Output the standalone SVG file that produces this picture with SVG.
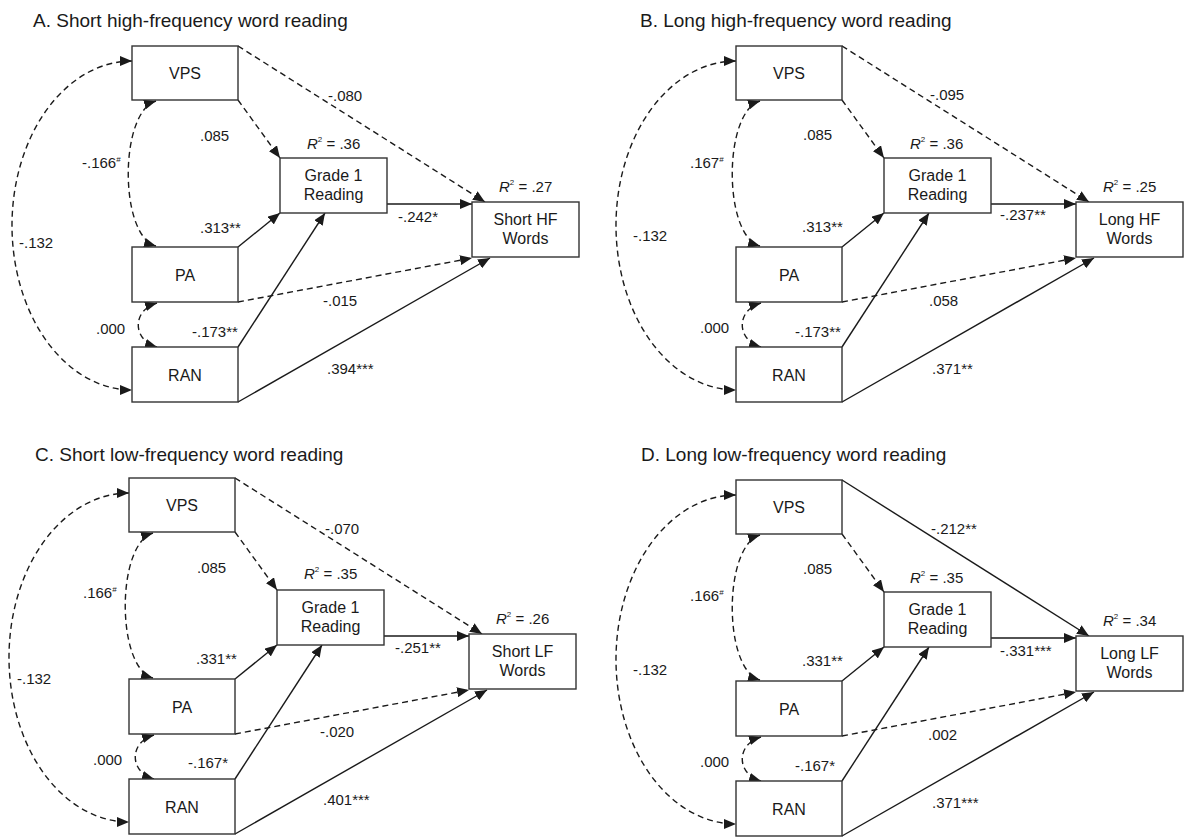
<svg xmlns="http://www.w3.org/2000/svg" width="1186" height="837" viewBox="0 0 1186 837">
<style>
.title{font-family:"Liberation Sans",Arial,sans-serif;font-size:19px;fill:#1a1a1a}
.nt{font-family:"Liberation Sans",Arial,sans-serif;font-size:16px;fill:#1a1a1a;text-anchor:middle}
.lab{font-family:"Liberation Sans",Arial,sans-serif;font-size:15px;fill:#1a1a1a}
.sup{font-size:8px}
.box{fill:#fff;stroke:#333;stroke-width:1.4}
.s{fill:none;stroke:#1a1a1a;stroke-width:1.4;marker-end:url(#ah)}
.d{fill:none;stroke:#1a1a1a;stroke-width:1.4;stroke-dasharray:6 4;marker-end:url(#ah)}
.dd{fill:none;stroke:#1a1a1a;stroke-width:1.4;stroke-dasharray:6 4;marker-start:url(#ah);marker-end:url(#ah)}
</style>
<defs>
<marker id="ah" markerUnits="userSpaceOnUse" viewBox="0 0 12 10" markerWidth="12" markerHeight="10" refX="12" refY="5" orient="auto-start-reverse">
<path d="M0,0 L12,5 L0,10 z" fill="#1a1a1a"/>
</marker>
</defs>
<rect width="1186" height="837" fill="#fff"/>

<text class="title" x="33" y="27">A. Short high-frequency word reading</text>
<text class="title" x="640" y="27">B. Long high-frequency word reading</text>
<text class="title" x="35" y="461">C. Short low-frequency word reading</text>
<text class="title" x="641" y="461">D. Long low-frequency word reading</text>

<!-- Panel A -->
<g id="panelA">
<g id="A-connectors">
<path class="dd" d="M132,61 A120,164.5 0 0 0 132,390"/>
<path class="dd" d="M156,101 C119,112 119,236 156,246"/>
<path class="dd" d="M157,303 C132,310 132,340 157,347"/>
<path class="d" d="M238,100 L280,158"/>
<path class="d" d="M238,46 L485,202"/>
<path class="s" d="M387,204 L472,204"/>
<path class="s" d="M238,247 L280,213"/>
<path class="s" d="M238,347 L325,213"/>
<path class="d" d="M238,302 L472,258"/>
<path class="s" d="M238,402 L490,258"/>
</g>
<g id="A-VPS"><rect class="box" x="132" y="46" width="106" height="54"/><text class="nt" x="185" y="78.5">VPS</text></g>
<g id="A-PA"><rect class="box" x="132" y="247" width="106" height="55"/><text class="nt" x="185" y="280.5">PA</text></g>
<g id="A-RAN"><rect class="box" x="132" y="347" width="106" height="55"/><text class="nt" x="185" y="380.5">RAN</text></g>
<g id="A-G1"><rect class="box" x="280" y="158" width="107" height="55"/><text class="nt" x="333.5" y="181">Grade 1</text><text class="nt" x="333.5" y="199.5">Reading</text></g>
<g id="A-OUT"><rect class="box" x="472" y="202" width="107" height="55"/><text class="nt" x="525.5" y="225">Short HF</text><text class="nt" x="525.5" y="243.5">Words</text></g>
<g id="A-labels">
<text class="lab" x="200" y="141">.085</text>
<text class="lab" x="82" y="168">-.166<tspan class="sup" dy="-6">#</tspan></text>
<text class="lab" x="19" y="248">-.132</text>
<text class="lab" x="200" y="233">.313**</text>
<text class="lab" x="96" y="334">.000</text>
<text class="lab" x="192" y="337">-.173**</text>
<text class="lab" x="328" y="101">-.080</text>
<text class="lab" x="398" y="222">-.242*</text>
<text class="lab" x="323" y="306">-.015</text>
<text class="lab" x="327" y="374">.394***</text>
<text class="lab" x="307" y="149"><tspan font-style="italic">R</tspan><tspan class="sup" dy="-7">2</tspan><tspan dy="7"> = .36</tspan></text>
<text class="lab" x="499" y="192"><tspan font-style="italic">R</tspan><tspan class="sup" dy="-7">2</tspan><tspan dy="7"> = .27</tspan></text>
</g>
</g>

<!-- Panel B -->
<g id="panelB" transform="translate(604,0)">
<g id="B-connectors">
<path class="dd" d="M132,61 A120,164.5 0 0 0 132,390"/>
<path class="dd" d="M156,101 C119,112 119,236 156,246"/>
<path class="dd" d="M157,303 C132,310 132,340 157,347"/>
<path class="d" d="M238,100 L280,158"/>
<path class="d" d="M238,46 L485,202"/>
<path class="s" d="M387,204 L472,204"/>
<path class="s" d="M238,247 L280,213"/>
<path class="s" d="M238,347 L325,213"/>
<path class="d" d="M238,302 L472,258"/>
<path class="s" d="M238,402 L490,258"/>
</g>
<g id="B-VPS"><rect class="box" x="132" y="46" width="106" height="54"/><text class="nt" x="185" y="78.5">VPS</text></g>
<g id="B-PA"><rect class="box" x="132" y="247" width="106" height="55"/><text class="nt" x="185" y="280.5">PA</text></g>
<g id="B-RAN"><rect class="box" x="132" y="347" width="106" height="55"/><text class="nt" x="185" y="380.5">RAN</text></g>
<g id="B-G1"><rect class="box" x="280" y="158" width="107" height="55"/><text class="nt" x="333.5" y="181">Grade 1</text><text class="nt" x="333.5" y="199.5">Reading</text></g>
<g id="B-OUT"><rect class="box" x="472" y="202" width="107" height="55"/><text class="nt" x="525.5" y="225">Long HF</text><text class="nt" x="525.5" y="243.5">Words</text></g>
<g id="B-labels">
<text class="lab" x="199" y="140">.085</text>
<text class="lab" x="86" y="168">.167<tspan class="sup" dy="-6">#</tspan></text>
<text class="lab" x="29" y="241">-.132</text>
<text class="lab" x="198" y="232">.313**</text>
<text class="lab" x="96" y="333">.000</text>
<text class="lab" x="191" y="337">-.173**</text>
<text class="lab" x="326" y="100">-.095</text>
<text class="lab" x="396" y="220">-.237**</text>
<text class="lab" x="325" y="306">.058</text>
<text class="lab" x="328" y="374">.371**</text>
<text class="lab" x="306" y="149"><tspan font-style="italic">R</tspan><tspan class="sup" dy="-7">2</tspan><tspan dy="7"> = .36</tspan></text>
<text class="lab" x="499" y="192"><tspan font-style="italic">R</tspan><tspan class="sup" dy="-7">2</tspan><tspan dy="7"> = .25</tspan></text>
</g>
</g>

<!-- Panel C -->
<g id="panelC" transform="translate(-3,432)">
<g id="C-connectors">
<path class="dd" d="M132,61 A120,164.5 0 0 0 132,390"/>
<path class="dd" d="M156,101 C119,112 119,236 156,246"/>
<path class="dd" d="M157,303 C132,310 132,340 157,347"/>
<path class="d" d="M238,100 L280,158"/>
<path class="d" d="M238,46 L485,202"/>
<path class="s" d="M387,204 L472,204"/>
<path class="s" d="M238,247 L280,213"/>
<path class="s" d="M238,347 L325,213"/>
<path class="d" d="M238,302 L472,258"/>
<path class="s" d="M238,402 L490,258"/>
</g>
<g id="C-VPS"><rect class="box" x="132" y="46" width="106" height="54"/><text class="nt" x="185" y="78.5">VPS</text></g>
<g id="C-PA"><rect class="box" x="132" y="247" width="106" height="55"/><text class="nt" x="185" y="280.5">PA</text></g>
<g id="C-RAN"><rect class="box" x="132" y="347" width="106" height="55"/><text class="nt" x="185" y="380.5">RAN</text></g>
<g id="C-G1"><rect class="box" x="280" y="158" width="107" height="55"/><text class="nt" x="333.5" y="181">Grade 1</text><text class="nt" x="333.5" y="199.5">Reading</text></g>
<g id="C-OUT"><rect class="box" x="472" y="202" width="107" height="55"/><text class="nt" x="525.5" y="225">Short LF</text><text class="nt" x="525.5" y="243.5">Words</text></g>
<g id="C-labels">
<text class="lab" x="200" y="141">.085</text>
<text class="lab" x="86" y="166">.166<tspan class="sup" dy="-6">#</tspan></text>
<text class="lab" x="20" y="252">-.132</text>
<text class="lab" x="199" y="232">.331**</text>
<text class="lab" x="96" y="333">.000</text>
<text class="lab" x="191" y="336">-.167*</text>
<text class="lab" x="328" y="102">-.070</text>
<text class="lab" x="398" y="221">-.251**</text>
<text class="lab" x="323" y="305">-.020</text>
<text class="lab" x="326" y="373">.401***</text>
<text class="lab" x="307" y="147"><tspan font-style="italic">R</tspan><tspan class="sup" dy="-7">2</tspan><tspan dy="7"> = .35</tspan></text>
<text class="lab" x="499" y="192"><tspan font-style="italic">R</tspan><tspan class="sup" dy="-7">2</tspan><tspan dy="7"> = .26</tspan></text>
</g>
</g>

<!-- Panel D -->
<g id="panelD" transform="translate(604,434)">
<g id="D-connectors">
<path class="dd" d="M132,61 A120,164.5 0 0 0 132,390"/>
<path class="dd" d="M156,101 C119,112 119,236 156,246"/>
<path class="dd" d="M157,303 C132,310 132,340 157,347"/>
<path class="d" d="M238,100 L280,158"/>
<path class="s" d="M238,46 L485,202"/>
<path class="s" d="M387,204 L472,204"/>
<path class="s" d="M238,247 L280,213"/>
<path class="s" d="M238,347 L325,213"/>
<path class="d" d="M238,302 L472,258"/>
<path class="s" d="M238,402 L490,258"/>
</g>
<g id="D-VPS"><rect class="box" x="132" y="46" width="106" height="54"/><text class="nt" x="185" y="78.5">VPS</text></g>
<g id="D-PA"><rect class="box" x="132" y="247" width="106" height="55"/><text class="nt" x="185" y="280.5">PA</text></g>
<g id="D-RAN"><rect class="box" x="132" y="347" width="106" height="55"/><text class="nt" x="185" y="380.5">RAN</text></g>
<g id="D-G1"><rect class="box" x="280" y="158" width="107" height="55"/><text class="nt" x="333.5" y="181">Grade 1</text><text class="nt" x="333.5" y="199.5">Reading</text></g>
<g id="D-OUT"><rect class="box" x="472" y="202" width="107" height="55"/><text class="nt" x="525.5" y="225">Long LF</text><text class="nt" x="525.5" y="243.5">Words</text></g>
<g id="D-labels">
<text class="lab" x="199" y="140">.085</text>
<text class="lab" x="86" y="167">.166<tspan class="sup" dy="-6">#</tspan></text>
<text class="lab" x="29" y="241">-.132</text>
<text class="lab" x="198" y="232">.331**</text>
<text class="lab" x="96" y="333">.000</text>
<text class="lab" x="191" y="337">-.167*</text>
<text class="lab" x="327" y="100">-.212**</text>
<text class="lab" x="396" y="222">-.331***</text>
<text class="lab" x="324" y="306">.002</text>
<text class="lab" x="328" y="374">.371***</text>
<text class="lab" x="306" y="149"><tspan font-style="italic">R</tspan><tspan class="sup" dy="-7">2</tspan><tspan dy="7"> = .35</tspan></text>
<text class="lab" x="499" y="192"><tspan font-style="italic">R</tspan><tspan class="sup" dy="-7">2</tspan><tspan dy="7"> = .34</tspan></text>
</g>
</g>
</svg>
